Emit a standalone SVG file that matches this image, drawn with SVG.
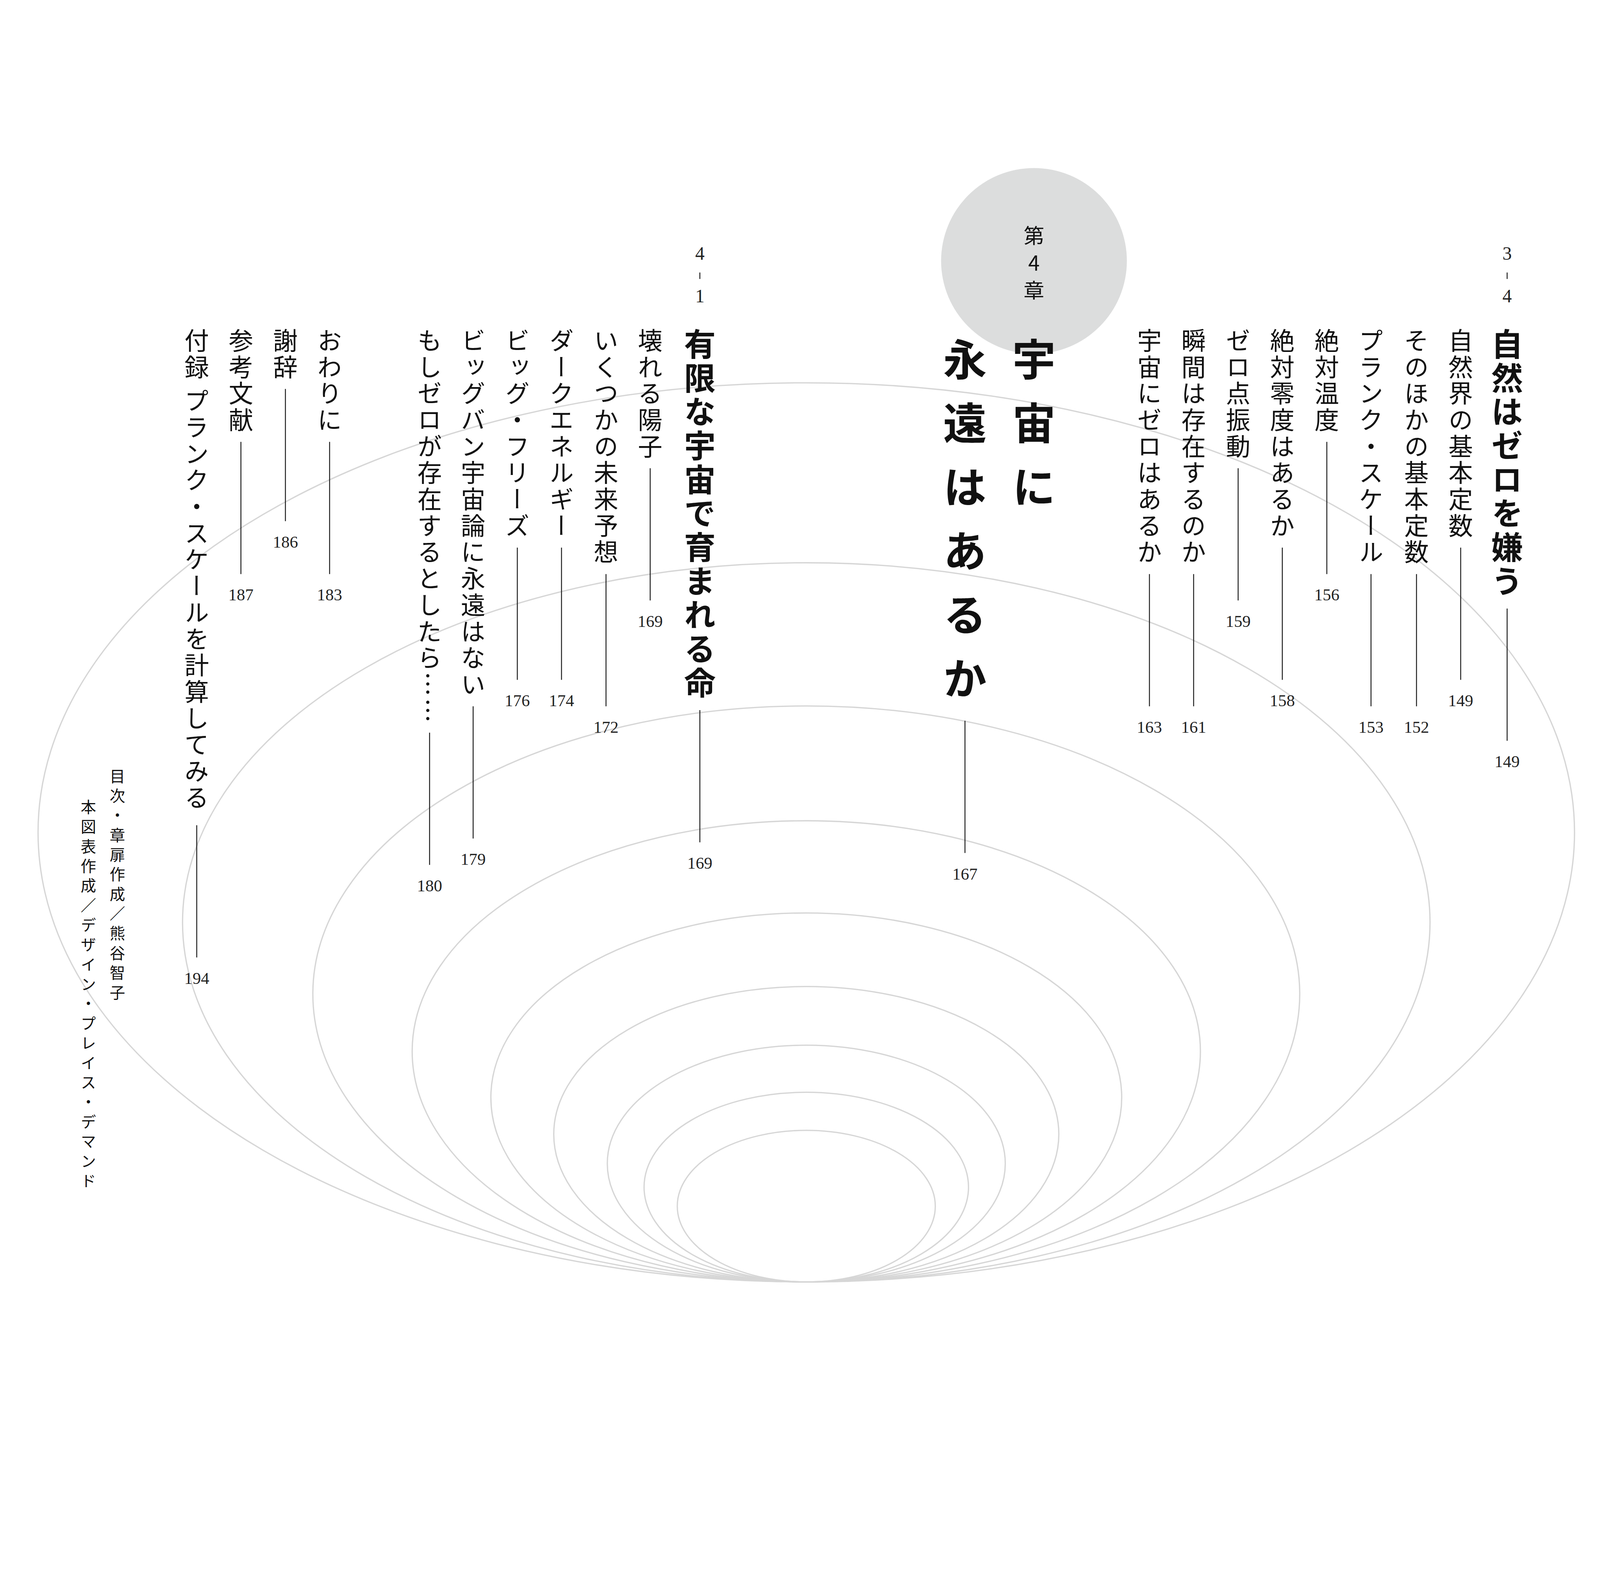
<svg xmlns="http://www.w3.org/2000/svg" width="4961" height="4063" viewBox="0 0 4961 4063" preserveAspectRatio="xMidYMin meet" style="max-width:100vw;max-height:100vh;display:block;">
<style>
.v{writing-mode:vertical-rl;font-family:"Noto Sans CJK JP",sans-serif;fill:#111;}
.it{font-size:76px;letter-spacing:6px;}
.tt{font-size:98px;letter-spacing:7px;font-weight:700;}
.ch{font-size:135px;letter-spacing:63px;font-weight:700;}
.cr{font-size:48px;letter-spacing:13px;}
.n{font-family:"Liberation Serif",serif;font-size:52px;text-anchor:middle;fill:#222;}
.sn{font-family:"Liberation Serif",serif;font-size:58px;text-anchor:middle;fill:#222;}
.ln{stroke:#222;stroke-width:3;}
.el{fill:none;stroke:#d6d6d6;stroke-width:4;}
</style>
<rect width="4961" height="4063" fill="#fff"/>
<g id="ellipses">
<ellipse class="el" cx="2500" cy="2581" rx="2382" ry="1394"/>
<ellipse class="el" cx="2500" cy="2860" rx="1934" ry="1115"/>
<ellipse class="el" cx="2500" cy="3082" rx="1530" ry="893"/>
<ellipse class="el" cx="2500" cy="3260" rx="1222" ry="715"/>
<ellipse class="el" cx="2500" cy="3403" rx="978" ry="572"/>
<ellipse class="el" cx="2500" cy="3517" rx="783" ry="458"/>
<ellipse class="el" cx="2500" cy="3608" rx="617" ry="367"/>
<ellipse class="el" cx="2500" cy="3681" rx="503" ry="294"/>
<ellipse class="el" cx="2500" cy="3740" rx="400" ry="235"/>
</g>
<g id="chapter">
<circle cx="3206" cy="809" r="288" fill="#dcdddd"/>
<text class="v" x="3206" y="698" style="font-size:64px;letter-spacing:21px;">第<tspan style="text-orientation:upright">4</tspan>章</text>
<text class="v ch" x="3206" y="1046">宇宙に</text>
<text class="v ch" x="2992" y="1046">永遠はあるか</text>
</g>
<g id="sec34">
<text class="sn" x="4673" y="805">3</text>
<line class="ln" x1="4673" y1="845" x2="4673" y2="865"/>
<text class="sn" x="4673" y="938">4</text>
<text class="v tt" x="4673" y="1017">自然はゼロを嫌う</text>
</g>
<g id="sec41">
<text class="sn" x="2170" y="805">4</text>
<line class="ln" x1="2170" y1="845" x2="2170" y2="865"/>
<text class="sn" x="2170" y="938">1</text>
<text class="v tt" x="2170" y="1017">有限な宇宙で育まれる命</text>
</g>
<g id="items" class="v it">
<text x="4529" y="1017">自然界の基本定数</text>
<text x="4392" y="1017">そのほかの基本定数</text>
<text x="4251" y="1017">プランク・スケール</text>
<text x="4114" y="1017">絶対温度</text>
<text x="3976" y="1017">絶対零度はあるか</text>
<text x="3839" y="1017">ゼロ点振動</text>
<text x="3701" y="1017">瞬間は存在するのか</text>
<text x="3564" y="1017">宇宙にゼロはあるか</text>
<text x="2016" y="1017">壊れる陽子</text>
<text x="1879" y="1017">いくつかの未来予想</text>
<text x="1741" y="1017">ダークエネルギー</text>
<text x="1604" y="1017">ビッグ・フリーズ</text>
<text x="1467" y="1017">ビッグバン宇宙論に永遠はない</text>
<text x="1332" y="1017">もしゼロが存在するとしたら……</text>
<text x="1022" y="1017">おわりに</text>
<text x="885" y="1017">謝辞</text>
<text x="747" y="1017">参考文献</text>
<text x="610" y="1017">付録 プランク・スケールを計算してみる</text>
</g>
<g id="credits" class="v cr">
<text x="364" y="2382">目次・章扉作成／熊谷智子</text>
<text x="274" y="2478">本図表作成／デザイン・プレイス・デマンド</text>
</g>
<g id="connectors">
<line class="ln" x1="4673" y1="1887" x2="4673" y2="2297"/>
<line class="ln" x1="4529" y1="1698" x2="4529" y2="2108"/>
<line class="ln" x1="4392" y1="1780" x2="4392" y2="2190"/>
<line class="ln" x1="4251" y1="1780" x2="4251" y2="2190"/>
<line class="ln" x1="4114" y1="1370" x2="4114" y2="1780"/>
<line class="ln" x1="3976" y1="1698" x2="3976" y2="2108"/>
<line class="ln" x1="3839" y1="1452" x2="3839" y2="1862"/>
<line class="ln" x1="3701" y1="1780" x2="3701" y2="2190"/>
<line class="ln" x1="3564" y1="1780" x2="3564" y2="2190"/>
<line class="ln" x1="2992" y1="2235" x2="2992" y2="2645"/>
<line class="ln" x1="2170" y1="2202" x2="2170" y2="2612"/>
<line class="ln" x1="2016" y1="1452" x2="2016" y2="1862"/>
<line class="ln" x1="1879" y1="1780" x2="1879" y2="2190"/>
<line class="ln" x1="1741" y1="1698" x2="1741" y2="2108"/>
<line class="ln" x1="1604" y1="1698" x2="1604" y2="2108"/>
<line class="ln" x1="1467" y1="2190" x2="1467" y2="2600"/>
<line class="ln" x1="1332" y1="2272" x2="1332" y2="2682"/>
<line class="ln" x1="1022" y1="1370" x2="1022" y2="1780"/>
<line class="ln" x1="885" y1="1206" x2="885" y2="1616"/>
<line class="ln" x1="747" y1="1370" x2="747" y2="1780"/>
<line class="ln" x1="610" y1="2559" x2="610" y2="2969"/>
</g>
<g id="pages">
<text class="n" x="4673" y="2379">149</text>
<text class="n" x="4529" y="2190">149</text>
<text class="n" x="4392" y="2272">152</text>
<text class="n" x="4251" y="2272">153</text>
<text class="n" x="4114" y="1862">156</text>
<text class="n" x="3976" y="2190">158</text>
<text class="n" x="3839" y="1944">159</text>
<text class="n" x="3701" y="2272">161</text>
<text class="n" x="3564" y="2272">163</text>
<text class="n" x="2992" y="2727">167</text>
<text class="n" x="2170" y="2694">169</text>
<text class="n" x="2016" y="1944">169</text>
<text class="n" x="1879" y="2272">172</text>
<text class="n" x="1741" y="2190">174</text>
<text class="n" x="1604" y="2190">176</text>
<text class="n" x="1467" y="2682">179</text>
<text class="n" x="1332" y="2764">180</text>
<text class="n" x="1022" y="1862">183</text>
<text class="n" x="885" y="1698">186</text>
<text class="n" x="747" y="1862">187</text>
<text class="n" x="610" y="3051">194</text>
</g>
</svg>
